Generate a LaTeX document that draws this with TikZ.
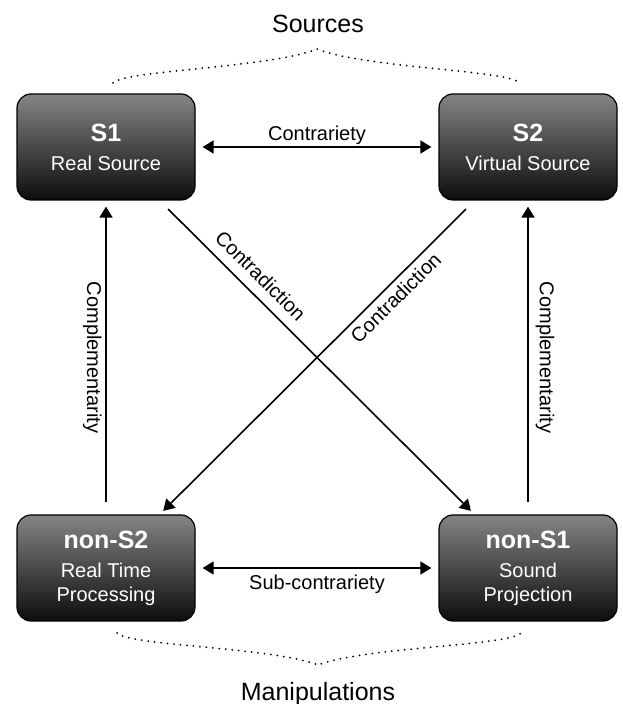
\documentclass[tikz,border=0pt]{standalone}
\usepackage{fontspec}
\setmainfont{Liberation Sans}
\usetikzlibrary{arrows.meta}

\begin{document}
\begin{tikzpicture}
[
x=1pt,y=1pt,
relpath/.style={black,line width=1.6pt,draw,>={Triangle[length=11pt,width=13pt]}},
srcbox/.style={draw=black,line width=1.2pt,rounded corners=14pt,top
  color=black!48,bottom color=black!95,text=white,align=center,
  minimum width=178pt,minimum height=106pt,inner sep=0pt},
bracepath/.style={line width=2pt,line cap=round,dash pattern=on 0pt off 6.5pt},
every node/.style={font=\fontsize{20}{24}\selectfont}
]

\def\boxtext#1#2{{\fontsize{25}{30}\selectfont\bfseries #1}\\[5pt]#2}

\useasboundingbox (0,0) rectangle (622,704);

\node[srcbox] (S1) at (106,557) {\boxtext{S1}{Real Source}};
\node[srcbox] (S2) at (528,557) {\boxtext{S2}{Virtual Source}};
\node[srcbox] (nonS2) at (106,136) {\boxtext{non-S2}{Real Time\\Processing}};
\node[srcbox] (nonS1) at (528,136) {\boxtext{non-S1}{Sound\\Projection}};

\node[font=\fontsize{25}{30}\selectfont,anchor=base] (sources) at (318,671) {Sources};
\node[font=\fontsize{25}{30}\selectfont,anchor=base] (manip) at (318,4) {Manipulations};

\draw[relpath,<->,shorten <=7pt,shorten >=7pt] (S1) -- node[above,inner sep=2pt] {Contrariety} (S2);
\draw[relpath,<->,shorten <=7pt,shorten >=7pt] (nonS2) -- node[below=4pt,inner sep=2pt] {Sub-contrariety} (nonS1);

\draw[relpath,->,shorten <=12pt,shorten >=6pt] (nonS2) -- node[rotate=-90,anchor=north,inner sep=3.5pt] {Complementarity} (S1);
\draw[relpath,->,shorten <=12pt,shorten >=6pt] (nonS1) -- node[rotate=-90,anchor=south,inner sep=7pt] {Complementarity} (S2);

\draw[relpath,->,shorten <=12pt,shorten >=5pt] (S1) -- node[pos=0.28,sloped,above,inner sep=10pt] {Contradiction} (nonS1);
\draw[relpath,<-,shorten <=5pt,shorten >=12pt] (nonS2) -- node[pos=0.72,sloped,below,inner sep=5pt] {Contradiction} (S2);

\draw[bracepath] (113,621) .. controls (125,634) and (270,636) .. (317,655)
  .. controls (364,636) and (508,634) .. (520,621);
\draw[bracepath] (117,71) .. controls (129,58) and (272,57) .. (318,39)
  .. controls (364,57) and (509,58) .. (521,71);

\end{tikzpicture}
\end{document}
